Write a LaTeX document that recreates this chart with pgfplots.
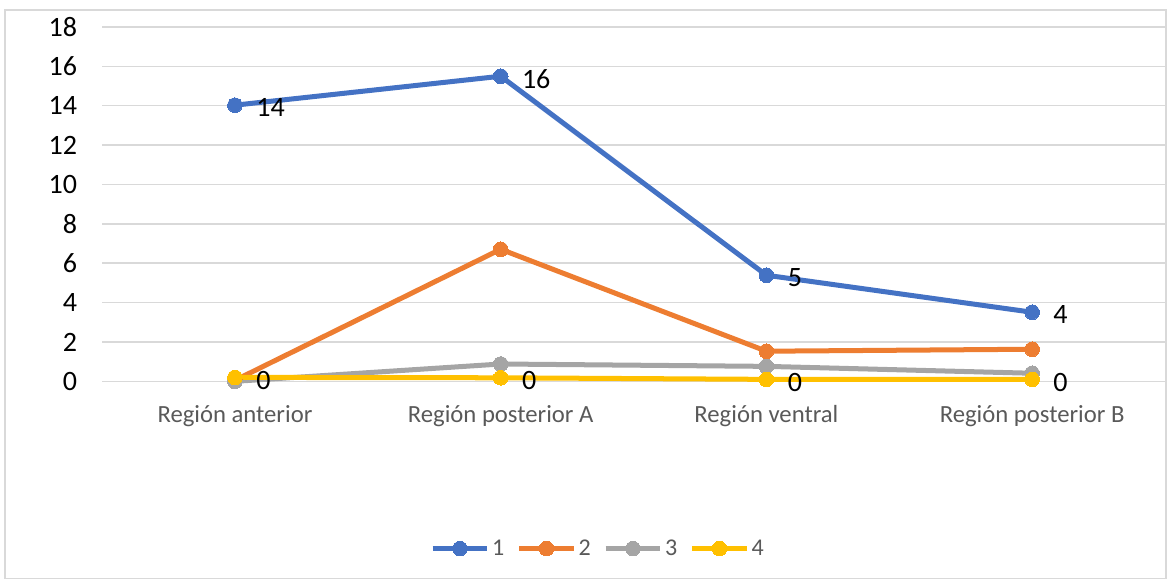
\documentclass[border=0pt]{standalone}
\usepackage{fontspec}
\setmainfont{Carlito}
\usepackage{pgfplots}
\pgfplotsset{compat=1.18}
\definecolor{cblue}{HTML}{4472C4}
\definecolor{corange}{HTML}{ED7D31}
\definecolor{cgray}{HTML}{A5A5A5}
\definecolor{cyellow}{HTML}{FFC000}
\definecolor{grid}{HTML}{D9D9D9}
\definecolor{txt}{HTML}{595959}
\begin{document}
\begin{tikzpicture}
\path[use as bounding box] (-76.5pt,-150pt) rectangle (800.25pt,285.75pt);
\draw[color=grid, line width=1pt] (-72.75pt,-147.75pt) rectangle (797.25pt,278.25pt);
\begin{axis}[
  scale only axis,
  width=796.5pt, height=265.5pt,
  xmin=-0.5, xmax=3.5,
  ymin=0, ymax=18,
  ytick={0,2,...,18},
  xtick={0,1,2,3},
  xticklabels={Región anterior, Región posterior A, Región ventral, Región posterior B},
  axis line style={draw=none},
  major tick length=0pt,
  ymajorgrids,
  grid style={color=grid, line width=1.1pt},
  /pgf/number format/assume math mode=true,
  y tick label style={font=\fontsize{21}{24}\selectfont, color=black, inner sep=0pt, xshift=-18.5pt},
  x tick label style={font=\fontsize{18.5}{21}\selectfont, color=txt, inner sep=0pt, yshift=-18pt},
  clip=false,
  every axis plot/.append style={line width=3.75pt, mark=*, mark size=5.5pt},
  nodes near coords,
  point meta=explicit symbolic,
  every node near coord/.append style={anchor=west, xshift=16pt, yshift=-2pt, font=\fontsize{21}{24}\selectfont, color=black, inner sep=0pt},
  legend columns=4,
  legend style={draw=none, fill=none, at={(0.467,-0.472)}, anchor=center, font=\fontsize{18}{20}\selectfont, text=txt, /tikz/every even column/.append style={column sep=7.5pt}},
  legend image code/.code={\draw[#1, line width=3.2pt, mark repeat=2, mark phase=2] plot coordinates {(0pt,0pt) (20.5pt,0pt) (41pt,0pt)};},
]
\addplot[color=cblue, mark options={fill=cblue, draw=cblue, line width=0pt}] coordinates {(0,14.03)[14] (1,15.5)[16] (2,5.39)[5] (3,3.51)[4]};
\addlegendentry{1}
\addplot[color=corange, mark options={fill=corange, draw=corange, line width=0pt}, nodes near coords={}] coordinates {(0,0.05) (1,6.71) (2,1.53) (3,1.63)};
\addlegendentry{2}
\addplot[color=cgray, mark options={fill=cgray, draw=cgray, line width=0pt}, nodes near coords={}] coordinates {(0,0) (1,0.88) (2,0.76) (3,0.41)};
\addlegendentry{3}
\addplot[color=cyellow, mark options={fill=cyellow, draw=cyellow, line width=0pt}] coordinates {(0,0.2)[0] (1,0.18)[0] (2,0.1)[0] (3,0.1)[0]};
\addlegendentry{4}
\end{axis}
\end{tikzpicture}
\end{document}
